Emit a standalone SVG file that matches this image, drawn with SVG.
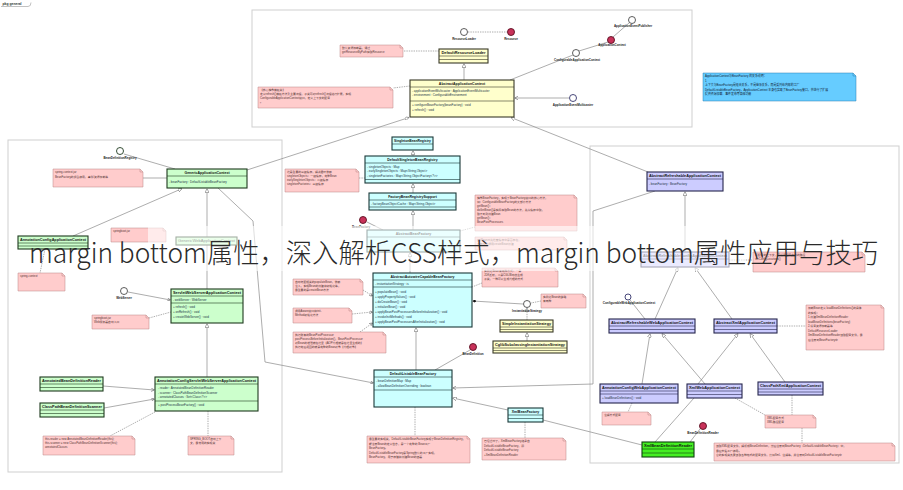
<svg xmlns="http://www.w3.org/2000/svg" width="903" height="490" viewBox="0 0 903 490">
<style>
text{font-family:"Liberation Sans","Noto Sans CJK SC",sans-serif;stroke:none}
.fr{fill:#fff;stroke:#cfcfcf;stroke-width:1}
.k rect{stroke-width:1.1}.k line{stroke-width:0.6}
.ye rect{fill:#ffffcc;stroke:#3a3a28}.ye line{stroke:#3a3a28}
.gr rect{fill:#ccffcc;stroke:#1e3a1e}.gr line{stroke:#1e3a1e}
.cy rect{fill:#ccffff;stroke:#1a3838}.cy line{stroke:#1a3838}
.lv rect{fill:#ccccff;stroke:#26264d}.lv line{stroke:#26264d}
.bg rect{fill:#44ee22;stroke:#104010}.bg line{stroke:#104010}
.nt path{fill:#ffcccc;stroke:#b98585;stroke-width:0.5}.nt .fo{fill:none}
.nb path{fill:#66ccff;stroke:#2a7fb0;stroke-width:0.5}.nb .fo{fill:none}
.tt{font-size:3.5px;font-weight:bold;text-anchor:middle;fill:#111}
.ta{font-size:3px;fill:#234}
.tn{font-size:2.8px;fill:#533}
.tb{font-size:2.9px;fill:#123}
.tl{font-size:3px;font-weight:bold;text-anchor:middle;fill:#222}
.ic{fill:#fff;stroke:#333;stroke-width:0.8}
.icb{fill:#fff;stroke:#33336a;stroke-width:0.9}
.icg{fill:#fff;stroke:#1e3a1e;stroke-width:0.9}
.rc{fill:#c8325a;stroke:#5a1020;stroke-width:0.9}
.c{fill:none;stroke:#8a8a8a;stroke-width:0.7}
.dl{stroke-dasharray:1.4 1}
.g{marker-end:url(#tri)}
.a{marker-end:url(#arr)}
</style>
<defs>
<marker id="tri" viewBox="0 0 6 6" refX="6" refY="3" markerWidth="4" markerHeight="4" markerUnits="userSpaceOnUse" orient="auto"><path d="M0 0L6 3L0 6Z" fill="#fff" stroke="#666" stroke-width="0.8"/></marker>
<marker id="arr" viewBox="0 0 6 6" refX="6" refY="3" markerWidth="3.5" markerHeight="3.5" markerUnits="userSpaceOnUse" orient="auto"><path d="M0 0L6 3L0 6" fill="none" stroke="#555" stroke-width="0.9"/></marker>
<marker id="dia" viewBox="0 0 8 6" refX="0" refY="3" markerWidth="4" markerHeight="3" markerUnits="userSpaceOnUse" orient="auto"><path d="M0 3L4 0L8 3L4 6Z" fill="#111"/></marker>
</defs>
<rect width="903" height="490" fill="#fff"/>

<g id="pkg-tab">
<path d="M1 6.5H28Q31 6.5 31 2.5" fill="none" stroke="#999" stroke-width="0.6"/>
<text x="2.5" y="5" style="font-size:3.4px;font-weight:bold;fill:#333">pkg general</text>
</g>

<g id="frames">
<rect class="fr" x="252" y="10" width="440" height="117"/>
<rect class="fr" x="8" y="140" width="274" height="332"/>
<rect class="fr" x="590" y="146" width="309" height="317"/>
</g>

<g id="connectors">
<line class="c dl" x1="468" y1="32" x2="507" y2="32"/>
<line class="c g" x1="464" y1="80" x2="464" y2="63.5"/>
<line class="c dl" x1="439" y1="51" x2="403" y2="51"/>
<line class="c dl" x1="410" y1="86" x2="393" y2="88"/>
<line class="c" x1="510" y1="80" x2="573" y2="55"/>
<line class="c" x1="579" y1="51" x2="608" y2="42"/>
<line class="c" x1="613" y1="37" x2="629" y2="23"/>
<line class="c a" x1="569" y1="98" x2="514.5" y2="98"/>
<line class="c g" x1="247" y1="170" x2="409" y2="117.5"/>
<line class="c g" x1="648" y1="172" x2="511" y2="117.5"/>
<line class="c" x1="124" y1="154" x2="175" y2="169"/>
<line class="c" x1="143" y1="178" x2="167" y2="178"/>
<line class="c g" x1="73" y1="236" x2="182" y2="188.6"/>
<line class="c g" x1="207" y1="289" x2="207" y2="188.6"/>
<line class="c dl" x1="45" y1="249" x2="40" y2="273"/>
<line class="c a" x1="128" y1="292" x2="170.5" y2="300"/>
<line class="c dl" x1="149" y1="318" x2="171" y2="312"/>
<line class="c g" x1="207" y1="377" x2="207" y2="323.6"/>
<line class="c a" x1="103" y1="386" x2="154.5" y2="390"/>
<line class="c a" x1="104" y1="408" x2="154.5" y2="399"/>
<line class="c dl" x1="155" y1="412" x2="110" y2="436"/>
<line class="c dl" x1="208" y1="411" x2="208" y2="436"/>
<polyline class="c a" points="218,188 253,221 265,362 373.5,383"/>
<line class="c g" x1="413" y1="156" x2="413" y2="150.6"/>
<line class="c dl" x1="359" y1="178" x2="365" y2="178"/>
<line class="c g" x1="413" y1="193" x2="413" y2="183.6"/>
<line class="c g" x1="413" y1="230" x2="413" y2="210.6"/>
<line class="c" x1="367" y1="222" x2="383" y2="230"/>
<line class="c dl" x1="460" y1="231" x2="475" y2="227"/>
<line class="c g" x1="410" y1="273" x2="410" y2="252.6"/>
<line class="c dl a" x1="363" y1="290" x2="372.5" y2="296"/>
<line class="c dl a" x1="352" y1="314" x2="372.5" y2="312"/>
<line class="c dl a" x1="360" y1="332" x2="372.5" y2="323"/>
<line class="c dl" x1="482" y1="283" x2="472" y2="287"/>
<line class="c" x1="472.5" y1="301" x2="523" y2="304" marker-start="url(#dia)"/>
<line class="c dl" x1="541" y1="301" x2="531" y2="303"/>
<line class="c dl g" x1="527" y1="320" x2="527" y2="308"/>
<line class="c g" x1="527" y1="341" x2="527" y2="332.6"/>
<line class="c" x1="470" y1="350" x2="435" y2="370"/>
<line class="c g" x1="416" y1="370" x2="416" y2="327.6"/>
<line class="c dl" x1="415" y1="407" x2="415" y2="436"/>
<line class="c g" x1="508" y1="410" x2="452.6" y2="398"/>
<line class="c" x1="543" y1="420" x2="642" y2="445"/>
<line class="c dl" x1="525" y1="422" x2="525" y2="438"/>
<polyline class="c a" points="655,191 593,211 593,384 452.6,388"/>
<line class="c g" x1="685" y1="252" x2="685" y2="191.6"/>
<line class="c g" x1="655" y1="319" x2="678" y2="267.6"/>
<line class="c g" x1="732" y1="319" x2="695" y2="267.6"/>
<line class="c" x1="630" y1="300" x2="645" y2="319"/>
<line class="c dl" x1="777" y1="326" x2="806" y2="326"/>
<line class="c dl" x1="729" y1="260" x2="753" y2="260"/>
<line class="c g" x1="642" y1="384" x2="650" y2="333.6"/>
<line class="c g" x1="705" y1="384" x2="662" y2="333.6"/>
<line class="c g" x1="698" y1="384" x2="738" y2="333.6"/>
<line class="c g" x1="785" y1="382" x2="750" y2="333.6"/>
<line class="c dl" x1="632" y1="403" x2="628" y2="412"/>
<line class="c dl" x1="735" y1="398" x2="765" y2="415"/>
<line class="c dl" x1="792" y1="395" x2="792" y2="415"/>
<line class="c" x1="694" y1="398" x2="655" y2="442"/>
<line class="c" x1="690" y1="442" x2="700" y2="429"/>
<line class="c dl" x1="802" y1="428" x2="802" y2="443"/>
</g>

<!-- top package -->
<g id="ResourceLoader"><circle class="ic" cx="464" cy="32" r="3.5"/><text class="tl" x="464" y="40">ResourceLoader</text></g>
<g id="Resource"><circle class="rc" cx="511" cy="32" r="3.5"/><text class="tl" x="511" y="40">Resource</text></g>
<g id="DefaultResourceLoader" class="k ye"><rect x="439" y="49" width="49" height="14"/><line x1="439" y1="56" x2="488" y2="56"/><line x1="439" y1="59.5" x2="488" y2="59.5"/><text class="tt" x="463.5" y="54.3" textLength="44" lengthAdjust="spacingAndGlyphs">DefaultResourceLoader</text></g>
<g id="note-resourceloader" class="nt"><path d="M340 45H400L403 48V57H340Z"/><path class="fo" d="M400 45V48H403"/><text class="tn" x="342" y="49">默认资源加载器，通过</text><text class="tn" x="342" y="53">getResourceByPath获取Resource</text></g>
<g id="AbstractApplicationContext" class="k ye"><rect x="410" y="80" width="104" height="37"/><line x1="410" y1="87" x2="514" y2="87"/><line x1="410" y1="101" x2="514" y2="101"/>
<text class="tt" x="462" y="85.2">AbstractApplicationContext</text>
<text class="ta" x="412" y="91.5">- applicationEventMulticaster : ApplicationEventMulticaster</text>
<text class="ta" x="412" y="96">- environment : ConfigurableEnvironment</text>
<text class="ta" x="412" y="106">+ configureBeanFactory(beanFactory) : void</text>
<text class="ta" x="412" y="110.5">+ refresh() : void</text></g>
<g id="note-aac" class="nt"><path d="M258 87H390L393 90V108H258Z"/><path class="fo" d="M390 87V90H393"/><text class="tn" x="260" y="91">【核心抽象模板类】</text><text class="tn" x="260" y="95">定义refresh()模板方法及主要流程，子类可对refresh()流程进行扩展，实现</text><text class="tn" x="260" y="99">ConfigurableApplicationContext接口，定义上下文的配置</text><text class="tn" x="260" y="103">。</text></g>
<g id="ConfigurableApplicationContext"><circle class="ic" cx="576" cy="53" r="3.5"/><text class="tl" x="577" y="61">ConfigurableApplicationContext</text></g>
<g id="ApplicationContext"><circle class="rc" cx="611" cy="40" r="3.5"/><text class="tl" x="612" y="46">ApplicationContext</text></g>
<g id="ApplicationEventPublisher"><circle class="ic" cx="632" cy="20" r="3.5"/><text class="tl" x="633" y="27">ApplicationEventPublisher</text></g>
<g id="ApplicationEventMulticaster"><circle class="icb" cx="573" cy="98" r="3.5"/><text class="tl" x="573" y="105.5">ApplicationEventMulticaster</text></g>
<g id="note-blue" class="nb"><path d="M703 73H853L856 76V101H703Z"/><path class="fo" d="M853 73V76H856"/>
<text class="tb" x="705" y="77">ApplicationContext与BeanFactory 的关系说明：</text>
<text class="tb" x="705" y="81.5">1</text>
<text class="tb" x="705" y="86">上下文与BeanFactory是组合关系，不是继承关系，而是委托给内部的工厂</text>
<text class="tb" x="705" y="90.5">DefaultListableBeanFactory，ApplicationContext 本身也实现了BeanFactory接口，并进行了扩展</text>
<text class="tb" x="705" y="95">提供资源加载、事件发布等高级功能</text></g>

<!-- left package -->
<g id="BeanDefinitionRegistry"><circle class="icg" cx="120" cy="151" r="3.5"/><text class="tl" x="120" y="159">BeanDefinitionRegistry</text></g>
<g id="GenericApplicationContext" class="k gr"><rect x="167" y="169" width="80" height="19"/><line x1="167" y1="176" x2="247" y2="176"/><text class="tt" x="207" y="174.3">GenericApplicationContext</text><text class="ta" x="169" y="182.5">- beanFactory : DefaultListableBeanFactory</text></g>
<g id="note-generic" class="nt"><path d="M53 169H140L143 172V187H53Z"/><path class="fo" d="M140 169V172H143"/><text class="tn" x="55" y="173">spring-context.jar</text><text class="tn" x="55" y="177.5">BeanFactory的组合使用，事件/资源加载等</text></g>
<g id="AnnotationConfigApplicationContext" class="k gr"><rect x="18" y="236" width="70" height="13"/><line x1="18" y1="243" x2="88" y2="243"/><line x1="18" y1="246" x2="88" y2="246"/><text class="tt" x="53" y="241.3" textLength="66" lengthAdjust="spacingAndGlyphs">AnnotationConfigApplicationContext</text></g>
<g id="note-springboot" class="nt"><path d="M111 228H163L166 231V242H111Z"/><path class="fo" d="M163 228V231H166"/><text class="tn" x="113" y="232">springboot.jar</text></g>
<g id="GenericWebApplicationContext" class="k gr"><rect x="176" y="237" width="61" height="8"/><text class="tt" x="206.5" y="242.3" textLength="57" lengthAdjust="spacingAndGlyphs" style="font-weight:normal">GenericWebApplicationContext</text></g>
<g id="note-context" class="nt"><path d="M18 273H62L65 276V291H18Z"/><path class="fo" d="M62 276V273M62 276H65"/><text class="tn" x="20" y="277">spring-context</text></g>
<g id="WebServer"><circle class="ic" cx="124" cy="291" r="3.5"/><text class="tl" x="124" y="298.5">WebServer</text></g>
<g id="ServletWebServerApplicationContext" class="k gr"><rect x="171" y="289" width="72" height="34"/><line x1="171" y1="296" x2="243" y2="296"/><line x1="171" y1="303" x2="243" y2="303"/>
<text class="tt" x="207" y="294.3" textLength="68" lengthAdjust="spacingAndGlyphs">ServletWebServerApplicationContext</text>
<text class="ta" x="173" y="300.5">- webServer : WebServer</text>
<text class="ta" x="173" y="307.5">+ refresh() : void</text>
<text class="ta" x="173" y="312.5">+ onRefresh() : void</text>
<text class="ta" x="173" y="317.5">+ createWebServer() : void</text></g>
<g id="note-servlet" class="nt"><path d="M92 315H146L149 318V329H92Z"/><path class="fo" d="M146 315V318H149"/><text class="tn" x="94" y="319">springboot.jar</text><text class="tn" x="94" y="323">Web服务器启动入口</text></g>
<g id="AnnotationConfigServletWebServerApplicationContext" class="k gr"><rect x="155" y="377" width="103" height="34"/><line x1="155" y1="384" x2="258" y2="384"/><line x1="155" y1="401" x2="258" y2="401"/>
<text class="tt" x="206.5" y="382.3" textLength="99" lengthAdjust="spacingAndGlyphs">AnnotationConfigServletWebServerApplicationContext</text>
<text class="ta" x="158" y="389">- reader : AnnotatedBeanDefinitionReader</text>
<text class="ta" x="158" y="393.5">- scanner : ClassPathBeanDefinitionScanner</text>
<text class="ta" x="158" y="398">- annotatedClasses : Set&lt;Class&lt;?&gt;&gt;</text>
<text class="ta" x="158" y="406">+ postProcessBeanFactory() : void</text></g>
<g id="AnnotatedBeanDefinitionReader" class="k gr"><rect x="40" y="377" width="63" height="14"/><line x1="40" y1="384" x2="103" y2="384"/><line x1="40" y1="387.5" x2="103" y2="387.5"/><text class="tt" x="71.5" y="382.3" textLength="59" lengthAdjust="spacingAndGlyphs">AnnotatedBeanDefinitionReader</text></g>
<g id="ClassPathBeanDefinitionScanner" class="k gr"><rect x="40" y="403" width="64" height="14"/><line x1="40" y1="410" x2="104" y2="410"/><line x1="40" y1="413.5" x2="104" y2="413.5"/><text class="tt" x="72" y="408.3" textLength="60" lengthAdjust="spacingAndGlyphs">ClassPathBeanDefinitionScanner</text></g>
<g id="note-reader" class="nt"><path d="M43 436H132L135 439V455H43Z"/><path class="fo" d="M132 436V439H135"/><text class="tn" x="45" y="440">this.reader = new AnnotatedBeanDefinitionReader(this);</text><text class="tn" x="45" y="444">this.scanner = new ClassPathBeanDefinitionScanner(this);</text><text class="tn" x="45" y="448">annotatedClasses</text></g>
<g id="note-boot" class="nt"><path d="M188 436H231L234 439V455H188Z"/><path class="fo" d="M231 436V439H234"/><text class="tn" x="190" y="440">SPRING_BOOT启动上下</text><text class="tn" x="190" y="444">文，最常用的实现类</text></g>

<!-- center -->
<g id="SingletonBeanRegistry" class="k cy"><rect x="392" y="137" width="41" height="13"/><line x1="392" y1="144" x2="433" y2="144"/><text class="tt" x="412.5" y="142.3" textLength="37" lengthAdjust="spacingAndGlyphs">SingletonBeanRegistry</text></g>
<g id="DefaultSingletonBeanRegistry" class="k cy"><rect x="365" y="156" width="95" height="27"/><line x1="365" y1="163" x2="460" y2="163"/><line x1="365" y1="179.5" x2="460" y2="179.5"/>
<text class="tt" x="412.5" y="161.3">DefaultSingletonBeanRegistry</text>
<text class="ta" x="367" y="167.5">- singletonObjects : Map</text>
<text class="ta" x="367" y="172">- earlySingletonObjects : Map&lt;String,Object&gt;</text>
<text class="ta" x="367" y="176.5">- singletonFactories : Map&lt;String,ObjectFactory&lt;?&gt;&gt;</text></g>
<g id="note-cache" class="nt"><path d="M285 169H356L359 172V192H285Z"/><path class="fo" d="M356 169V172H359"/><text class="tn" x="287" y="173">这是重要的三级缓存，解决循环依赖</text><text class="tn" x="287" y="177">singletonObjects：一级缓存，完整Bean</text><text class="tn" x="287" y="181">earlySingletonObjects：二级缓存</text><text class="tn" x="287" y="185">singletonFactories：三级缓存</text></g>
<g id="FactoryBeanRegistrySupport" class="k cy"><rect x="369" y="193" width="87" height="17"/><line x1="369" y1="200" x2="456" y2="200"/><line x1="369" y1="207" x2="456" y2="207"/><text class="tt" x="412.5" y="198.3">FactoryBeanRegistrySupport</text><text class="ta" x="371" y="204.5">- factoryBeanObjectCache : Map&lt;String,Object&gt;</text></g>
<g id="BeanFactory"><circle class="rc" cx="363" cy="220" r="3.5"/><text class="tl" x="361" y="227.5">BeanFactory</text></g>
<g id="AbstractBeanFactory" class="k cy"><rect x="367" y="230" width="93" height="22"/><line x1="367" y1="237" x2="460" y2="237"/><text class="tt" x="413.5" y="235.3">AbstractBeanFactory</text></g>
<g id="note-abf" class="nt"><path d="M475 195H574L577 198V231H475Z"/><path class="fo" d="M574 195V198H577"/><text class="tn" x="477" y="199">抽象BeanFactory，实现了BeanFactory接口的核心方法，</text><text class="tn" x="477" y="203">如：ConfigurableBeanFactory的大部分方法</text><text class="tn" x="477" y="207">getBean()：</text><text class="tn" x="477" y="211">doGetBean()是实际获取Bean的方法，先从缓存中取，</text><text class="tn" x="477" y="215">取不到则创建Bean</text><text class="tn" x="477" y="219">getBean()：</text><text class="tn" x="477" y="223">BeanPostProcessors</text></g>
<g id="note-abf2" class="nt"><path d="M475 237H564L567 240V250H475Z"/><path class="fo" d="M564 237V240H567"/><text class="tn" x="477" y="241">getBean时先检查缓存中是否存在，</text><text class="tn" x="477" y="245">不存在则调用createBean创建</text></g>
<g id="AbstractAutowireCapableBeanFactory" class="k cy"><rect x="373" y="273" width="99" height="54"/><line x1="373" y1="280" x2="472" y2="280"/><line x1="373" y1="287" x2="472" y2="287"/>
<text class="tt" x="422.5" y="278.3">AbstractAutowireCapableBeanFactory</text>
<text class="ta" x="375" y="284.5">- instantiationStrategy : is</text>
<text class="ta" x="375" y="292.5">+ populateBean() : void</text>
<text class="ta" x="375" y="297.5">+ applyPropertyValues() : void</text>
<text class="ta" x="375" y="302.5">+ doCreateBean() : void</text>
<text class="ta" x="375" y="307.5">+ initializeBean() : void</text>
<text class="ta" x="375" y="312.5">+ applyBeanPostProcessorsBeforeInitialization() : void</text>
<text class="ta" x="375" y="317.5">+ invokeInitMethods() : void</text>
<text class="ta" x="375" y="322.5">+ applyBeanPostProcessorsAfterInitialization() : void</text></g>
<g id="note-populate" class="nt"><path d="M293 279H360L363 282V295H293Z"/><path class="fo" d="M360 279V282H363"/><text class="tn" x="295" y="283">自动装配相关的populateBean，依赖</text><text class="tn" x="295" y="287">注入，实现Bean的创建和初始化等，</text><text class="tn" x="295" y="291">最重要的是createBean方法</text></g>
<g id="note-aware" class="nt"><path d="M293 308H349L352 311V323H293Z"/><path class="fo" d="M349 308V311H352"/><text class="tn" x="295" y="312">调用Aware接口和init-</text><text class="tn" x="295" y="316">Method初始化方法</text></g>
<g id="note-bpp" class="nt"><path d="M293 332H383L386 335V353H293Z"/><path class="fo" d="M383 332V335H386"/><text class="tn" x="295" y="336">执行所有的BeanPostProcessor</text><text class="tn" x="295" y="340">postProcessBeforeInitialization()，BeanPostProcessor</text><text class="tn" x="295" y="344">对Bean的增强就在这里【AOP代理就是在这里生成的】</text><text class="tn" x="295" y="348">执行完后返回的就是完整的Bean对象【代理对象】</text></g>
<g id="note-instantiate" class="nt"><path d="M482 268H555L558 271V287H482Z"/><path class="fo" d="M555 268V271H558"/><text class="tn" x="484" y="272">实例化Bean有两种方式：一是</text><text class="tn" x="484" y="276">JDK反射，二是CGLIB动态生成</text><text class="tn" x="484" y="280">子类，一种可以生成代理的方式</text></g>
<g id="InstantiationStrategy"><circle class="ic" cx="527" cy="304" r="3.5"/><text class="tl" x="527" y="311.5">InstantiationStrategy</text></g>
<g id="note-strategy" class="nt"><path d="M541 294H583L586 297V308H541Z"/><path class="fo" d="M583 294V297H586"/><text class="tn" x="543" y="298">实例化Bean的策略</text><text class="tn" x="543" y="302">有两种</text></g>
<g id="SimpleInstantiationStrategy" class="k ye"><rect x="500" y="320" width="53" height="12"/><line x1="500" y1="327" x2="553" y2="327"/><line x1="500" y1="329.5" x2="553" y2="329.5"/><text class="tt" x="526.5" y="325.3" textLength="49" lengthAdjust="spacingAndGlyphs">SimpleInstantiationStrategy</text></g>
<g id="CglibSubclassingInstantiationStrategy" class="k ye"><rect x="493" y="341" width="74" height="12"/><line x1="493" y1="348" x2="567" y2="348"/><line x1="493" y1="350.5" x2="567" y2="350.5"/><text class="tt" x="530" y="346.3" textLength="70" lengthAdjust="spacingAndGlyphs">CglibSubclassingInstantiationStrategy</text></g>
<g id="BeanDefinition"><circle class="rc" cx="473" cy="347" r="3.5"/><text class="tl" x="473" y="354.5">BeanDefinition</text></g>
<g id="DefaultListableBeanFactory" class="k cy"><rect x="374" y="370" width="78" height="37"/><line x1="374" y1="377" x2="452" y2="377"/><line x1="374" y1="390" x2="452" y2="390"/>
<text class="tt" x="413" y="375.3">DefaultListableBeanFactory</text>
<text class="ta" x="376" y="382">- beanDefinitionMap : Map</text>
<text class="ta" x="376" y="386.5">- allowBeanDefinitionOverriding : boolean</text></g>
<g id="note-dlbf" class="nt"><path d="M367 436H467L470 439V463H367Z"/><path class="fo" d="M467 436V439H470"/><text class="tn" x="369" y="440">最重要的实现类，DefaultListableBeanFactory实现了BeanDefinitionRegistry，</text><text class="tn" x="369" y="444.5">能注册Bean的定义信息，是一个完整的 Bean工厂</text><text class="tn" x="369" y="449">BeanFactory。</text><text class="tn" x="369" y="453.5">DefaultListableBeanFactory是Spring默认的工厂实现，</text><text class="tn" x="369" y="458">BeanFactory，用于存储和创建Bean的容器</text></g>
<g id="XmlBeanFactory" class="k cy"><rect x="508" y="408" width="35" height="14"/><line x1="508" y1="415" x2="543" y2="415"/><line x1="508" y1="418.5" x2="543" y2="418.5"/><text class="tt" x="525.5" y="413.3">XmlBeanFactory</text></g>
<g id="note-xmlbf" class="nt"><path d="M482 438H563L566 441V460H482Z"/><path class="fo" d="M563 438V441H566"/><text class="tn" x="484" y="442">已经过时了，XmlBeanFactory继承自</text><text class="tn" x="484" y="446.5">DefaultListableBeanFactory，即</text><text class="tn" x="484" y="451">DefaultListableBeanFactory</text><text class="tn" x="484" y="455.5">+XmlBeanDefinitionReader</text></g>

<!-- right package -->
<g id="AbstractRefreshableApplicationContext" class="k lv"><rect x="647" y="172" width="76" height="19"/><line x1="647" y1="179" x2="723" y2="179"/><text class="tt" x="685" y="177.3" textLength="72" lengthAdjust="spacingAndGlyphs">AbstractRefreshableApplicationContext</text><text class="ta" x="649" y="184.5">- beanFactory : BeanFactory</text></g>
<g id="AbstractRefreshableConfigApplicationContext" class="k lv"><rect x="641" y="252" width="88" height="15"/><line x1="641" y1="259" x2="729" y2="259"/><text class="tt" x="685" y="257.3" textLength="84" lengthAdjust="spacingAndGlyphs">AbstractRefreshableConfigApplicationContext</text></g>
<g id="note-config" class="nt"><path d="M753 252H862L865 255V272H753Z"/><path class="fo" d="M862 252V255H865"/><text class="tn" x="755" y="256">可配置的上下文，可设置配置文件的路径</text><text class="tn" x="755" y="260">setConfigLocations()</text></g>
<g id="ConfigurableWebApplicationContext"><circle class="icb" cx="628" cy="297" r="3"/><text class="tl" x="629" y="303.5">ConfigurableWebApplicationContext</text></g>
<g id="AbstractRefreshableWebApplicationContext" class="k lv"><rect x="609" y="319" width="86" height="14"/><line x1="609" y1="326" x2="695" y2="326"/><line x1="609" y1="329.5" x2="695" y2="329.5"/><text class="tt" x="652" y="324.3" textLength="82" lengthAdjust="spacingAndGlyphs">AbstractRefreshableWebApplicationContext</text></g>
<g id="AbstractXmlApplicationContext" class="k lv"><rect x="714" y="319" width="63" height="14"/><line x1="714" y1="326" x2="777" y2="326"/><line x1="714" y1="329.5" x2="777" y2="329.5"/><text class="tt" x="745.5" y="324.3" textLength="59" lengthAdjust="spacingAndGlyphs">AbstractXmlApplicationContext</text></g>
<g id="note-xmlctx" class="nt"><path d="M806 305H881L884 308V350H806Z"/><path class="fo" d="M881 305V308H884"/><text class="tn" x="808" y="309">加载Bean定义 loadBeanDefinitions()的具体</text><text class="tn" x="808" y="313.5">的实现：</text><text class="tn" x="808" y="318">1.创建XmlBeanDefinitionReader</text><text class="tn" x="808" y="322.5">loadBeanDefinitions(beanFactory)</text><text class="tn" x="808" y="327">2.设置资源加载器等</text><text class="tn" x="808" y="331.5">DefaultResourceLoader</text><text class="tn" x="808" y="336">XmlBeanDefinitionReader读取配置文件，最</text><text class="tn" x="808" y="340.5">后注册到BeanFactory中</text></g>
<g id="AnnotationConfigWebApplicationContext" class="k lv"><rect x="600" y="384" width="78" height="19"/><line x1="600" y1="391" x2="678" y2="391"/><line x1="600" y1="394" x2="678" y2="394"/><text class="tt" x="639" y="389.3" textLength="74" lengthAdjust="spacingAndGlyphs">AnnotationConfigWebApplicationContext</text><text class="ta" x="602" y="399">+ loadBeanDefinitions() : void</text></g>
<g id="note-annoweb" class="nt"><path d="M602 412H648L651 415V425H602Z"/><path class="fo" d="M648 412V415H651"/><text class="tn" x="604" y="416">注解方式配置</text></g>
<g id="XmlWebApplicationContext" class="k lv"><rect x="687" y="384" width="55" height="14"/><line x1="687" y1="391" x2="742" y2="391"/><line x1="687" y1="394.5" x2="742" y2="394.5"/><text class="tt" x="714.5" y="389.3" textLength="51" lengthAdjust="spacingAndGlyphs">XmlWebApplicationContext</text></g>
<g id="ClassPathXmlApplicationContext" class="k lv"><rect x="758" y="382" width="65" height="13"/><line x1="758" y1="389" x2="823" y2="389"/><line x1="758" y1="392" x2="823" y2="392"/><text class="tt" x="790.5" y="387.3" textLength="61" lengthAdjust="spacingAndGlyphs">ClassPathXmlApplicationContext</text></g>
<g id="note-xmlway" class="nt"><path d="M765 415H813L816 418V428H765Z"/><path class="fo" d="M813 415V418H816"/><text class="tn" x="767" y="419">XML配置方式</text><text class="tn" x="767" y="423">XML路径配置</text></g>
<g id="BeanDefinitionReader"><circle class="rc" cx="703" cy="426" r="3.5"/><text class="tl" x="703" y="433.5">BeanDefinitionReader</text></g>
<g id="XmlBeanDefinitionReader" class="k bg"><rect x="642" y="442" width="52" height="15"/><line x1="642" y1="449" x2="694" y2="449"/><line x1="642" y1="453" x2="694" y2="453"/><text class="tt" x="668" y="447.3" textLength="48" lengthAdjust="spacingAndGlyphs">XmlBeanDefinitionReader</text></g>
<g id="note-reader-xml" class="nt"><path d="M714 443H892L895 446V461H714Z"/><path class="fo" d="M892 443V446H895"/><text class="tn" x="716" y="447">读取XML配置文件，解析成BeanDefinition，然后注册到BeanFactory（DefaultListableBeanFactory）中，</text><text class="tn" x="716" y="451.5">最后交给工厂使用。</text><text class="tn" x="716" y="456">它的实现类负责读取各种格式的配置文件，比如Xml、注解等，并注册到DefaultListableBeanFactory中</text></g>

<g id="overlay">
<rect x="148" y="226" width="597" height="45" fill="#fff" opacity="0.6"/>
<text x="29" y="263" style="font-family:'Noto Sans CJK SC','Noto Sans',sans-serif;font-size:27px;font-weight:300;fill:#2a2a2a" textLength="849" lengthAdjust="spacingAndGlyphs">margin bottom属性，深入解析CSS样式，margin bottom属性应用与技巧</text>
</g>
</svg>
